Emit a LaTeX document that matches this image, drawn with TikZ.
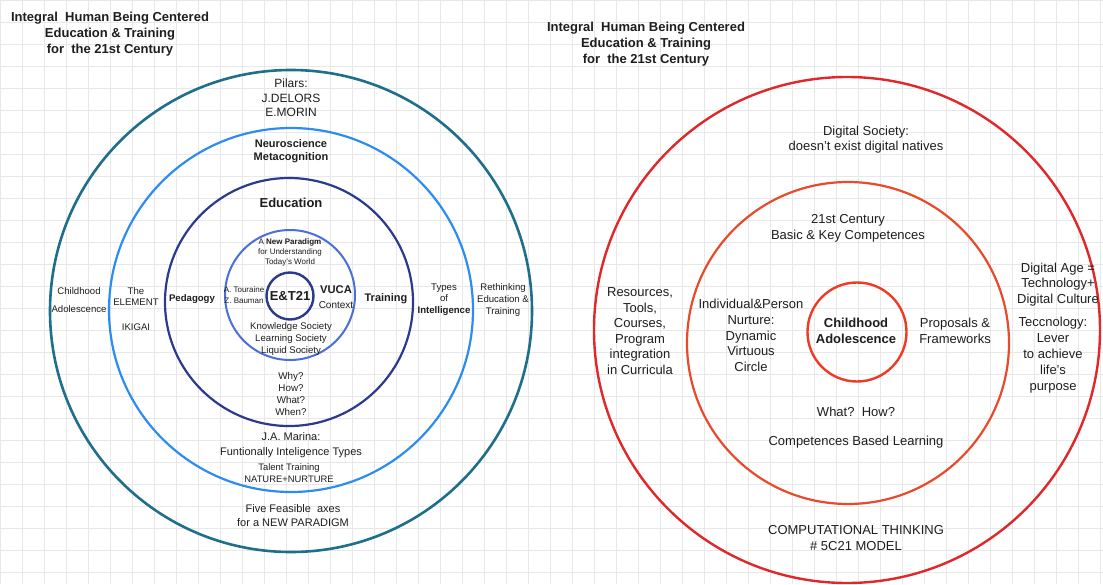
\documentclass[tikz,border=0pt]{standalone}
\usepackage{fontspec}
\setmainfont{Liberation Sans}
\newcommand\fsz[2]{\fontsize{#1}{#2}\selectfont}
\definecolor{gridc}{HTML}{E8E8E8}
\definecolor{txtc}{HTML}{1E1E1E}
\definecolor{ltA}{HTML}{1F6F8B}
\definecolor{ltB}{HTML}{2D8CF0}
\definecolor{ltC}{HTML}{2B3A8C}
\definecolor{ltD}{HTML}{4B6FD6}
\definecolor{rtA}{HTML}{E0282A}
\definecolor{rtB}{HTML}{E84A2A}
\definecolor{rtC}{HTML}{EE3B24}
\tikzset{
  ring/.style={circle, draw=#1, inner sep=0pt},
  txt/.style={align=center, text=txtc, inner sep=0pt},
  gridline/.style={draw=gridc, line width=0.6pt},
}
\begin{document}
\begin{tikzpicture}[x=1pt,y=-1pt]
\useasboundingbox (0,0) rectangle (1103,584);
\fill[white] (0,0) rectangle (1103,584);
\foreach \gx in {0,22,...,1100} {\draw[gridline] (\gx,0) -- (\gx,584);}
\foreach \gy in {0,22,...,583} {\draw[gridline] (0,\gy) -- (1103,\gy);}
% ---------- left diagram ----------
\node[ring=ltA, line width=2.6pt, minimum size=482pt] (L1) at (291,311) {};
\node[ring=ltB, line width=2.2pt, minimum size=364pt] (L2) at (291,310) {};
\node[ring=ltC, line width=2.2pt, minimum size=248pt] (L3) at (289,302) {};
\node[ring=ltD, line width=2pt, minimum size=130pt] (L4) at (290,295) {};
\node[ring=ltC, line width=2.4pt, minimum size=47pt] (L5) at (290,296) {};
\node[txt, font=\fsz{13}{16}\bfseries] (titleL) at (110,34) {Integral\ \ Human Being Centered\\Education \& Training\\for\ \ the 21st Century};
\node[txt, font=\fsz{12}{14.5}] (pilars) at (291,98) {Pilars:\\J.DELORS\\E.MORIN};
\node[txt, font=\fsz{11}{13}\bfseries] (neuro) at (291,151.5) {Neuroscience\\Metacognition};
\node[txt, font=\fsz{13}{15}\bfseries] (educ) at (291,203) {Education};
\node[txt, font=\fsz{8}{10}] (parad) at (290,252) {A \textbf{New Paradigm}\\for Understanding\\Today's World};
\node[txt, font=\fsz{13}{15}\bfseries] (et21) at (290,296) {E\&T21};
\node[txt, font=\fsz{8}{11}] (tour) at (244,295.5) {A. Touraine\\Z. Bauman};
\node[txt, font=\fsz{11.2}{13}\bfseries] (vuca) at (336,290) {VUCA};
\node[txt, font=\fsz{10}{12}] (ctx) at (336,305) {Context};
\node[txt, font=\fsz{9.6}{12}\bfseries] (peda) at (192,299) {Pedagogy};
\node[txt, font=\fsz{11}{13}\bfseries] (train) at (386,299) {Training};
\node[txt, font=\fsz{9.6}{12}] (soc) at (291,339) {Knowledge Society\\Learning Society\\Liquid Society};
\node[txt, font=\fsz{9.8}{12}] (why) at (291,394) {Why?\\How?\\What?\\When?};
\node[txt, font=\fsz{11}{15}] (marina) at (291,445.5) {J.A. Marina:\\Funtionally Inteligence Types};
\node[txt, font=\fsz{9.4}{12}] (talent) at (289,473) {Talent Training\\NATURE+NURTURE};
\node[txt, font=\fsz{11}{14}] (five) at (293,516) {Five Feasible\ \ axes\\for a NEW PARADIGM};
\node[txt, font=\fsz{9.6}{18}] (child) at (79,300) {Childhood\\Adolescence};
\node[txt, font=\fsz{9.6}{11}] (elem) at (136,296.5) {The\\ELEMENT};
\node[txt, font=\fsz{9.6}{11}] (ikig) at (136,327) {IKIGAI};
\node[txt, font=\fsz{9.6}{11.5}] (types) at (444,299.5) {Types\\of\\\textbf{Intelligence}};
\node[txt, font=\fsz{9.6}{12}] (reth) at (503,300) {Rethinking\\Education \&\\Training};
% ---------- right diagram ----------
\node[ring=rtA, line width=2.4pt, minimum size=506pt] (R1) at (847,330) {};
\node[ring=rtB, line width=2.2pt, minimum size=322pt] (R2) at (848,343) {};
\node[ring=rtC, line width=2.4pt, minimum size=99pt] (R3) at (857,332) {};
\node[txt, font=\fsz{13}{16}\bfseries] (titleR) at (646,44) {Integral\ \ Human Being Centered\\Education \& Training\\for\ \ the 21st Century};
\node[txt, font=\fsz{13}{15.5}] (digsoc) at (866,139.5) {Digital Society:\\doesn't exist digital natives};
\node[txt, font=\fsz{13}{16}] (c21) at (848,228) {21st Century\\Basic \& Key Competences};
\node[txt, font=\fsz{13}{15.6}] (res) at (640,331) {Resources,\\Tools,\\Courses,\\Program\\integration\\in Curricula};
\node[txt, font=\fsz{13}{15.75}] (indiv) at (751,335.5) {Individual\&Person\\Nurture:\\Dynamic\\Virtuous\\Circle};
\node[txt, font=\fsz{13}{16}\bfseries] (childR) at (856,331) {Childhood\\Adolescence};
\node[txt, font=\fsz{13}{16}] (prop) at (955,331) {Proposals \&\\Frameworks};
\node[txt, font=\fsz{13}{15.5}] (digage) at (1058,284.5) {Digital Age =\\Technology+\\Digital Culture};
\node[txt, font=\fsz{13}{16}] (tecn) at (1053,355) {Teccnology:\\Lever\\to achieve\\life's\\purpose};
\node[txt, font=\fsz{13}{15}] (what) at (856,412) {What?\ \ How?};
\node[txt, font=\fsz{13}{15}] (comp) at (856,442) {Competences Based Learning};
\node[txt, font=\fsz{13}{16}] (compt) at (856,538) {COMPUTATIONAL THINKING\\\# 5C21 MODEL};
\end{tikzpicture}
\end{document}
